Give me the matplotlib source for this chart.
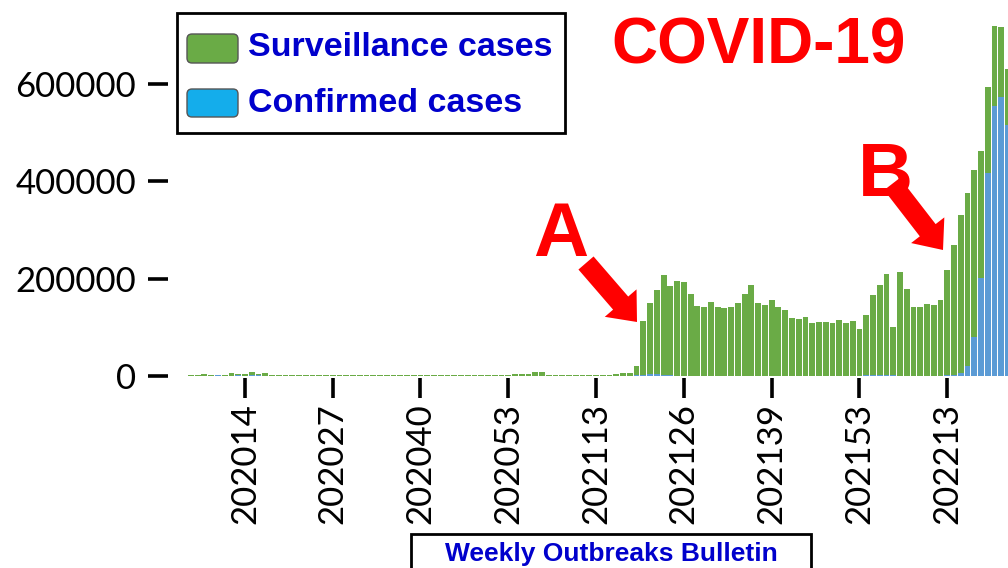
import matplotlib
matplotlib.use("Agg")
import matplotlib.pyplot as plt
from matplotlib.patches import Rectangle, FancyBboxPatch, FancyArrow
import numpy as np

# weekly categories 202006 .. 202222
weeks = ([f"2020{w:02d}" for w in range(6, 54)] +
         [f"2021{w:02d}" for w in range(1, 53)] +
         [f"2022{w:02d}" for w in range(1, 23)])

surv_2020 = [1500, 2500, 3500, 2500, 2000, 2500, 5500, 4500, 3500, 8500, 4500, 6000, 2500,
             1600, 1500, 1400, 1400, 1300, 1300, 1300, 1200, 1200, 1200, 1300, 1200, 1200,
             1300, 1400, 1300, 1400, 1300, 1300, 1400, 1500, 1400, 1500, 1600, 1500, 1600,
             1700, 1800, 1900, 2000, 2200, 2500, 2800, 3000, 3000]
surv_2021 = [3200, 3500, 5000, 8800, 7500, 2500, 1800, 1500, 1500, 1500, 2000, 2500, 3000,
             2500, 3000, 5000, 5500, 5500,
             21000, 113500, 149000, 176400, 207200, 185300, 195500, 193400, 168200, 143600,
             142200, 152400, 142200, 140100, 140900, 149100, 167600, 186700, 149100, 145600,
             155900, 140900, 135400, 119600, 116900, 121700, 108000, 111400, 110100, 109400,
             115500, 108000, 112000, 95700]
surv_2022 = [124400, 165500, 186700, 208500, 99800, 213300, 177800, 140900, 142200, 147000,
             145600, 155900, 217400, 268700, 330300, 376000, 422600, 461500, 592200, 718000,
             715300, 629200]

conf_2020 = [0, 0, 0, 0, 2000, 0, 0, 1500, 0, 1500, 1500, 1000, 0] + [0] * 35
conf_2021 = [0] * 18 + [1500, 3000, 4500, 4500, 3000, 2000] + [1000] * 28
conf_2022 = [1500, 1500, 1500, 1500, 1500, 1000, 1000, 1000, 1000, 1000, 1000, 1000, 1500,
             3000, 6800, 20500, 79400, 201700, 415800, 553800, 573000, 514900]

surveillance = surv_2020 + surv_2021 + surv_2022
confirmed = conf_2020 + conf_2021 + conf_2022

tick_labels = ["202014", "202027", "202040", "202053", "202113",
               "202126", "202139", "202153", "202213"]
y_ticks = [0, 200000, 400000, 600000]

x = np.arange(len(weeks))
tick_pos = [weeks.index("202014") + 13 * k for k in range(len(tick_labels))]

fig = plt.figure(figsize=(10.08, 5.68), dpi=100)
ax = fig.add_axes([168 / 1008, 190 / 568, 1 - 168 / 1008, 1 - 190 / 568])

ax.bar(x, surveillance, width=0.86, color="#6AAB46", linewidth=0)
ax.bar(x, confirmed, width=0.86, color="#5B9BD5", linewidth=0)

ax.set_xlim(-3.39, 121.0)
ax.set_ylim(-4100, 771300)
for s in ax.spines.values():
    s.set_visible(False)

ax.set_xticks(tick_pos, tick_labels, rotation=90)
ax.set_yticks(y_ticks, [str(v) for v in y_ticks])
ax.tick_params(axis="both", direction="out", length=14.5, width=2.6, color="black",
               labelsize=25)
ax.tick_params(axis="x", pad=3.5)
ax.tick_params(axis="y", pad=8.5)
for lab in ax.get_xticklabels() + ax.get_yticklabels():
    lab.set_family("Lato")

# overlay in pixel units for annotations
ov = fig.add_axes([0, 0, 1, 1])
ov.set_xlim(0, 1008)
ov.set_ylim(568, 0)
ov.axis("off")
ov.patch.set_alpha(0)

bold = dict(family="Liberation Sans", weight="bold")

ov.add_patch(Rectangle((177, 13), 388, 120, facecolor="white", edgecolor="black", lw=2))
ov.add_patch(FancyBboxPatch((187, 34), 51, 29, boxstyle="round,pad=0,rounding_size=5",
                            facecolor="#6AAB46", edgecolor="#555555", lw=1))
ov.add_patch(FancyBboxPatch((187, 89), 51, 28, boxstyle="round,pad=0,rounding_size=5",
                            facecolor="#14ADEB", edgecolor="#555555", lw=1))
ov.text(248, 48, "Surveillance cases", color="#0000CC", fontsize=24.5, va="center", **bold)
ov.text(248, 103, "Confirmed cases", color="#0000CC", fontsize=24.5, va="center", **bold)

ov.text(759, 46, "COVID-19", color="#FF0000", fontsize=46, ha="center", va="center", **bold)
ov.text(561, 236, "A", color="#FF0000", fontsize=55, ha="center", va="center", **bold)
ov.text(885, 176, "B", color="#FF0000", fontsize=55, ha="center", va="center", **bold)

ov.add_patch(FancyArrow(586, 263, 51, 59, width=20, head_width=42, head_length=25,
                        length_includes_head=True, color="#FF0000", lw=0))
ov.add_patch(FancyArrow(892, 184, 51, 66, width=20, head_width=42, head_length=25,
                        length_includes_head=True, color="#FF0000", lw=0))

ov.add_patch(Rectangle((411, 534), 400, 40, facecolor="white", edgecolor="black", lw=2,
                       clip_on=False))
ov.text(611, 554, "Weekly Outbreaks Bulletin", color="#0000CC", fontsize=19,
        ha="center", va="center", **bold)

fig.savefig("out.png", dpi=100)
